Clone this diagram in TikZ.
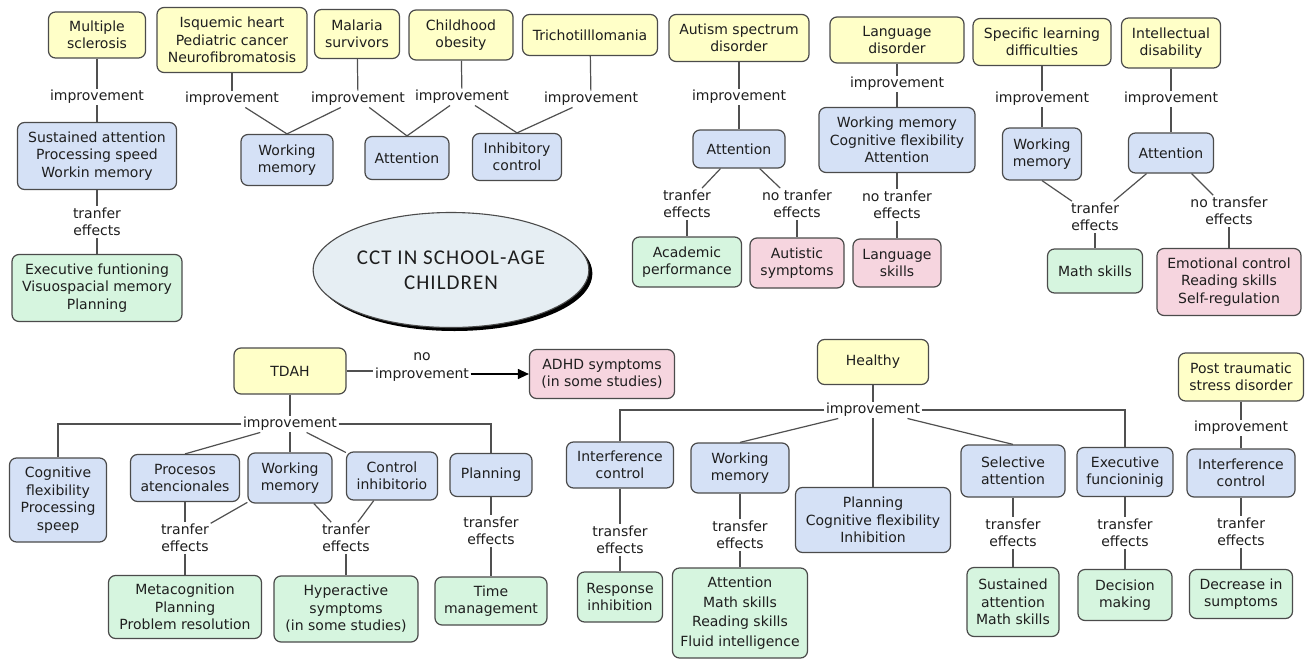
\documentclass[tikz,border=0pt]{standalone}
\usepackage{fontspec}
\setmainfont{DejaVu Sans}
\newfontfamily\titlefont[LetterSpace=5]{Carlito}
\usetikzlibrary{shapes.geometric,arrows.meta,shadows}

\definecolor{ylw}{RGB}{255,255,200}
\definecolor{blu}{RGB}{213,225,246}
\definecolor{grn}{RGB}{214,245,223}
\definecolor{pnk}{RGB}{246,213,223}
\definecolor{ttl}{RGB}{230,238,243}
\definecolor{bordc}{RGB}{75,75,75}
\definecolor{linec}{RGB}{80,80,80}
\definecolor{txt}{RGB}{30,30,30}

\tikzset{
  concept/.style={draw=bordc, line width=1.2pt, rounded corners=7pt, align=center,
                  text=txt, inner sep=1pt},
  sz/.style 2 args={minimum width=#1pt, minimum height=#2pt},
  cond/.style={concept, fill=ylw},
  skill/.style={concept, fill=blu},
  gain/.style={concept, fill=grn},
  nogain/.style={concept, fill=pnk},
  link/.style={align=center, text=txt, inner sep=1.5pt},
  conn/.style={draw=linec, line width=1.2pt},
}

\begin{document}
\begin{tikzpicture}[x=1pt, y=-1pt, font=\fontsize{14}{17.5}\selectfont]
\fill[white] (0,0) rectangle (1310,659);
\useasboundingbox (0,0) rectangle (1310,659);

% ---------- top row: conditions ----------
\node[cond, sz={97}{46}]  (ms)   at (97,35)   {Multiple\\sclerosis};
\node[cond, sz={150}{65}] (isq)  at (232,40)  {Isquemic heart\\Pediatric cancer\\Neurofibromatosis};
\node[cond, sz={85}{49}]  (mal)  at (357,34)  {Malaria\\survivors};
\node[cond, sz={104}{50}] (obe)  at (461,35)  {Childhood\\obesity};
\node[cond, sz={135}{41}] (tri)  at (590,35)  {Trichotilllomania};
\node[cond, sz={140}{47}] (asd)  at (739,38)  {Autism spectrum\\disorder};
\node[cond, sz={134}{46}] (lang) at (897,40)  {Language\\disorder};
\node[cond, sz={138}{47}] (sld)  at (1042,42) {Specific learning\\difficulties};
\node[cond, sz={99}{50}]  (id)   at (1171,43) {Intellectual\\disability};

% improvement links
\node[link] (lms)   at (97,97)   {improvement};
\node[link] (lisq)  at (232,99)  {improvement};
\node[link] (lmal)  at (358,99)  {improvement};
\node[link] (lobe)  at (462,97)  {improvement};
\node[link] (ltri)  at (591,99)  {improvement};
\node[link] (lasd)  at (739,97)  {improvement};
\node[link] (llang) at (897,84)  {improvement};
\node[link] (lsld)  at (1042,99) {improvement};
\node[link] (lid)   at (1171,99) {improvement};

% improved skills
\node[skill, sz={159}{67}] (sa)   at (97,156)   {Sustained attention\\Processing speed\\Workin memory};
\node[skill, sz={92}{51}]  (wm1)  at (287,160)  {Working\\memory};
\node[skill, sz={84}{43}]  (att1) at (407,158)  {Attention};
\node[skill, sz={89}{47}]  (inh1) at (517,157)  {Inhibitory\\control};
\node[skill, sz={92}{38}]  (att2) at (739,149)  {Attention};
\node[skill, sz={156}{65}] (wcf)  at (897,140)  {Working memory\\Cognitive flexibility\\Attention};
\node[skill, sz={79}{52}]  (wm2)  at (1042,154) {Working\\memory};
\node[skill, sz={85}{40}]  (att3) at (1171,153) {Attention};

% transfer links
\node[link] (tms)   at (97,222)   {tranfer\\effects};
\node[link] (tasd1) at (687,204)  {tranfer\\effects};
\node[link] (tasd2) at (797,204)  {no tranfer\\effects};
\node[link] (tlang) at (897,205)  {no tranfer\\effects};
\node[link] (tsld)  at (1095,217) {tranfer\\effects};
\node[link] (tid)   at (1229,211) {no transfer\\effects};

% outcomes
\node[gain,   sz={170}{67}] (exf)  at (97,288)   {Executive funtioning\\Visuospacial memory\\Planning};
\node[gain,   sz={109}{50}] (acad) at (687,262)  {Academic\\performance};
\node[nogain, sz={94}{50}]  (auts) at (797,263)  {Autistic\\symptoms};
\node[nogain, sz={88}{48}]  (lsk)  at (897,263)  {Language\\skills};
\node[gain,   sz={95}{44}]  (math) at (1095,271) {Math skills};
\node[nogain, sz={144}{67}] (emo)  at (1229,282) {Emotional control\\Reading skills\\Self-regulation};

% ---------- central title ----------
\node[ellipse, draw=bordc, line width=1.1pt, fill=ttl, minimum width=233pt, minimum height=115pt,
      align=center, text=txt, font=\titlefont\fontsize{21}{25}\selectfont,
      drop shadow={shadow xshift=3.5pt, shadow yshift=-3.5pt, fill=black, opacity=1}]
      (title) at (451,270) {CCT IN SCHOOL-AGE\\CHILDREN};

% ---------- TDAH ----------
\node[cond,   sz={112}{46}] (tdah) at (290,371) {TDAH};
\node[link]                 (lno)  at (422,367) {no\\improvement};
\node[nogain, sz={145}{49}] (adhd) at (602,374) {ADHD symptoms\\(in some studies)};
\node[link]                 (ltdah) at (290,424) {improvement};

\node[skill, sz={97}{84}]  (cfp)   at (58,500)  {Cognitive\\flexibility\\Processing\\speep};
\node[skill, sz={109}{47}] (proc)  at (185,478) {Procesos\\atencionales};
\node[skill, sz={84}{50}]  (wm3)   at (290,478) {Working\\memory};
\node[skill, sz={91}{48}]  (ctrl)  at (392,476) {Control\\inhibitorio};
\node[skill, sz={82}{43}]  (plan1) at (491,475) {Planning};

\node[link] (tl1) at (185,538) {tranfer\\effects};
\node[link] (tl2) at (346,538) {tranfer\\effects};
\node[link] (tl3) at (491,531) {transfer\\effects};

\node[gain, sz={153}{63}] (meta) at (185,607) {Metacognition\\Planning\\Problem resolution};
\node[gain, sz={144}{66}] (hyp)  at (346,609) {Hyperactive\\symptoms\\(in some studies)};
\node[gain, sz={112}{48}] (time) at (491,601) {Time\\management};

% ---------- Healthy ----------
\node[cond, sz={111}{45}] (hea)  at (873,362) {Healthy};
\node[link]               (lhea) at (873,410) {improvement};

\node[skill, sz={107}{46}] (ic1) at (620,465)  {Interference\\control};
\node[skill, sz={98}{50}]  (wm4) at (740,468)  {Working\\memory};
\node[skill, sz={155}{65}] (pci) at (873,520)  {Planning\\Cognitive flexibility\\Inhibition};
\node[skill, sz={104}{52}] (sel) at (1013,471) {Selective\\attention};
\node[skill, sz={96}{49}]  (exe) at (1125,472) {Executive\\funcioninig};

\node[link] (th1) at (620,540)  {transfer\\effects};
\node[link] (th2) at (740,535)  {transfer\\effects};
\node[link] (th3) at (1013,533) {transfer\\effects};
\node[link] (th4) at (1125,533) {transfer\\effects};

\node[gain, sz={85}{50}]  (resp) at (620,597)  {Response\\inhibition};
\node[gain, sz={135}{90}, font=\fontsize{14}{19.5}\selectfont]
                          (amrf) at (740,613)  {Attention\\Math skills\\Reading skills\\Fluid intelligence};
\node[gain, sz={92}{69}]  (sama) at (1013,602) {Sustained\\attention\\Math skills};
\node[gain, sz={94}{51}]  (dec)  at (1125,595) {Decision\\making};

% ---------- PTSD ----------
\node[cond, sz={125}{48}] (ptsd)  at (1241,377) {Post traumatic\\stress disorder};
\node[link]               (lptsd) at (1241,428) {improvement};
\node[skill, sz={108}{48}] (ic2)  at (1241,473) {Interference\\control};
\node[link]               (tp)    at (1241,532) {tranfer\\effects};
\node[gain, sz={103}{49}] (decs)  at (1241,594) {Decrease in\\sumptoms};

% ---------- connectors ----------
\begin{scope}[conn]
  % multiple sclerosis
  \draw (ms) -- (lms);  \draw (lms) -- (sa);
  \draw (sa) -- (tms);  \draw (tms) -- (exf);
  % clinical groups sharing skills
  \draw (isq) -- (lisq); \draw (lisq) -- (wm1.north);
  \draw (mal) -- (lmal); \draw (lmal) -- (wm1.north); \draw (lmal) -- (att1.north);
  \draw (obe) -- (lobe); \draw (lobe) -- (att1.north); \draw (lobe) -- (inh1.north);
  \draw (tri) -- (ltri); \draw (ltri) -- (inh1.north);
  % autism
  \draw (asd) -- (lasd); \draw (lasd) -- (att2);
  \draw (att2) -- (tasd1); \draw (tasd1) -- (acad);
  \draw (att2) -- (tasd2); \draw (tasd2) -- (auts);
  % language disorder
  \draw (lang) -- (llang); \draw (llang) -- (wcf);
  \draw (wcf) -- (tlang); \draw (tlang) -- (lsk);
  % learning difficulties and intellectual disability
  \draw (sld) -- (lsld); \draw (lsld) -- (wm2);
  \draw (id) -- (lid);   \draw (lid) -- (att3);
  \draw (wm2.south) -- (tsld); \draw (att3) -- (tsld); \draw (tsld) -- (math);
  \draw (att3) -- (tid); \draw (tid) -- (emo);

  % TDAH
  \draw (tdah.east) -- (tdah.east -| lno.west);
  \draw[-{Triangle[length=11pt,width=10pt]}, draw=black] (lno.east |- adhd.west) -- (adhd.west);
  \draw (tdah) -- (ltdah);
  \draw (ltdah.west) -| (cfp.north);
  \draw (ltdah) -- (proc.north);
  \draw (ltdah) -- (wm3);
  \draw (ltdah) -- (ctrl);
  \draw (ltdah.east) -| (plan1.north);
  \draw (proc) -- (tl1); \draw (wm3) -- (tl1); \draw (tl1) -- (meta);
  \draw (wm3) -- (tl2);  \draw (ctrl) -- (tl2); \draw (tl2) -- (hyp);
  \draw (plan1) -- (tl3); \draw (tl3) -- (time);

  % Healthy
  \draw (hea) -- (lhea);
  \draw (lhea.west) -| (ic1.north);
  \draw (lhea) -- (wm4.north);
  \draw (lhea) -- (pci);
  \draw (lhea) -- (sel.north);
  \draw (lhea.east) -| (exe.north);
  \draw (ic1) -- (th1); \draw (th1) -- (resp);
  \draw (wm4) -- (th2); \draw (th2) -- (amrf);
  \draw (sel) -- (th3); \draw (th3) -- (sama);
  \draw (exe) -- (th4); \draw (th4) -- (dec);

  % PTSD
  \draw (ptsd) -- (lptsd); \draw (lptsd) -- (ic2);
  \draw (ic2) -- (tp); \draw (tp) -- (decs);
\end{scope}
\end{tikzpicture}
\end{document}
